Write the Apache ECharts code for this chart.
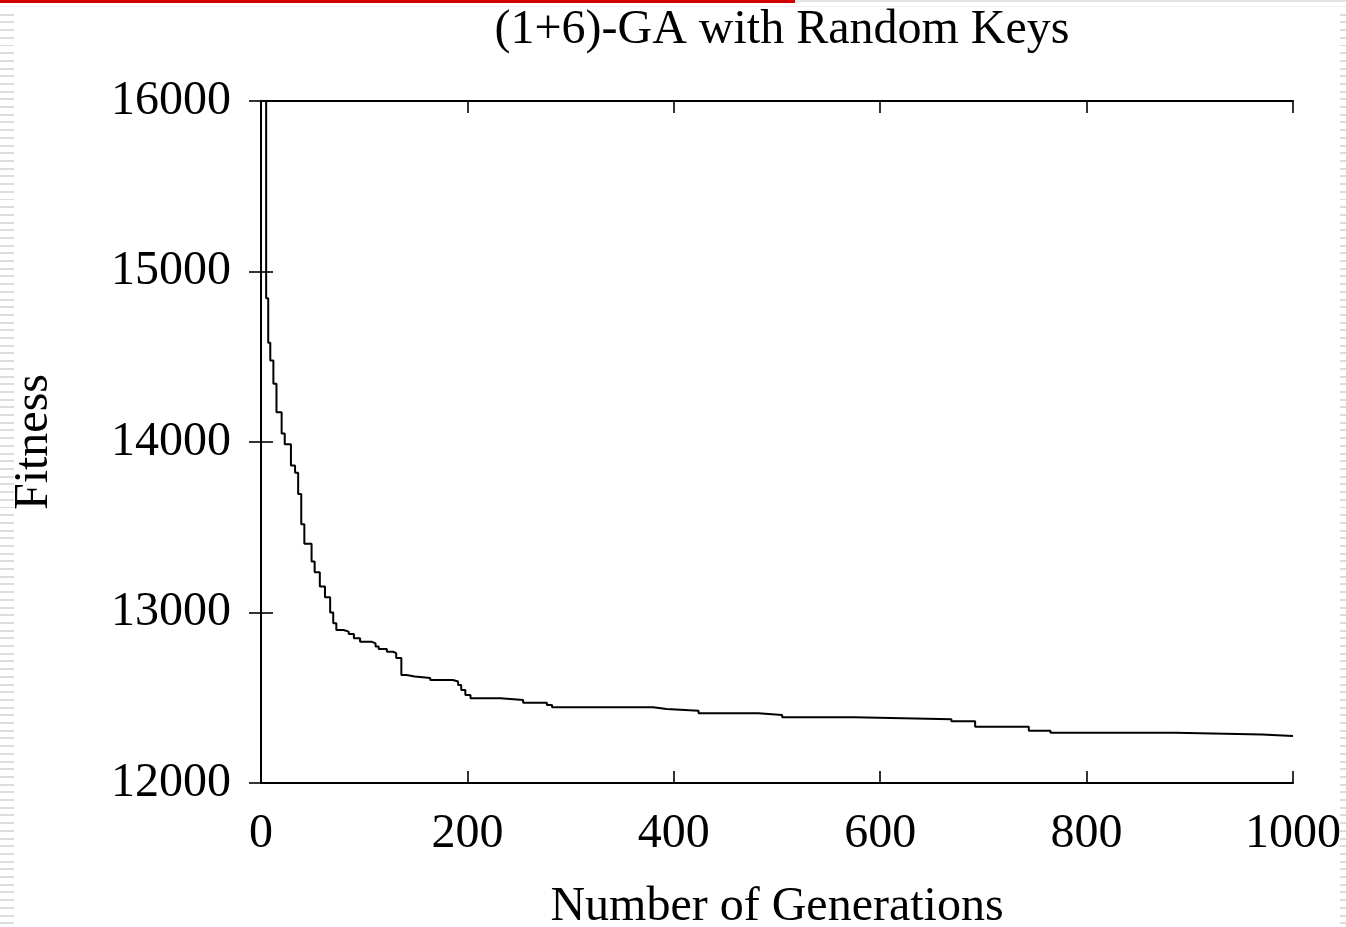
<!DOCTYPE html>
<html>
<head>
<meta charset="utf-8">
<script src="https://cdn.jsdelivr.net/npm/echarts@6/dist/echarts.min.js"></script>
<style>
  html, body { margin: 0; padding: 0; background: #fff; }
  #wrap { position: relative; width: 1346px; height: 927px; overflow: hidden; }
  #chart { position: absolute; left: 0; top: 0; width: 1346px; height: 927px; }
  .stripe { position: absolute; top: 8px; bottom: 0;
    background: repeating-linear-gradient(to bottom, #fff 0, #fff 5.7px, #dcdcdc 5.7px, #dcdcdc 7.7px); }
  #redbar { position: absolute; left: 0; top: 0; width: 795px; height: 3px; background: #d40000; }
  #graybar { position: absolute; left: 795px; right: 0; top: 0; height: 2px; background: #e4e4e4; }
  #hair { position: absolute; left: 0; right: 0; top: 6px; height: 1px; background: #efefef; }
</style>
</head>
<body>
<div id="wrap">
  <div class="stripe" style="left:0;width:14px;"></div>
  <div class="stripe" style="left:1340px;width:6px;"></div>
  <div id="redbar"></div>
  <div id="graybar"></div>
  <div id="hair"></div>
  <div id="chart"></div>
</div>
<script>
// best fitness so far (a drop happens at each generation)
var generations = [5, 5, 7, 9, 12, 15, 20, 23, 29, 33, 36, 39, 42, 49, 52, 57, 62, 67, 70, 73,
  80, 85, 90, 96, 107, 111, 114, 122, 128, 131, 136, 141, 149, 164, 186, 191, 194, 198, 203, 232,
  254, 277, 282, 380, 393, 424, 482, 505, 575, 669, 692, 744, 765, 886, 970, 1000];
var fitness = [16300, 14843, 14582, 14478, 14342, 14175, 14050, 13987, 13862, 13820, 13695, 13518, 13403, 13299, 13236, 13152, 13090, 13000, 12937, 12897,
  12888, 12874, 12849, 12829, 12819, 12800, 12786, 12770, 12762, 12733, 12633, 12624, 12616, 12604, 12595, 12575, 12546, 12516, 12497, 12487,
  12471, 12457, 12444, 12434, 12424, 12409, 12399, 12385, 12374, 12362, 12330, 12307, 12295, 12285, 12276, 12276];
var xTicks = { min: 0, max: 1000, interval: 200 };
var yTicks = { min: 12000, max: 16000, interval: 1000 };

var font = 'Liberation Serif';
var points = generations.map(function (g, i) { return [g, fitness[i]]; });

var chart = echarts.init(document.getElementById('chart'), null, { renderer: 'canvas' });

var lineStyle = { color: '#000', width: 2 };
var tick = { show: true, inside: true, length: 12, lineStyle: { color: '#000', width: 1.6 } };
var plain = function (v) { return String(v); };

chart.setOption({
  animation: false,
  backgroundColor: 'transparent',
  title: {
    text: '(1+6)-GA with Random Keys',
    left: 777,
    textAlign: 'center',
    top: 1,
    textStyle: { fontFamily: font, fontSize: 48, fontWeight: 'normal', color: '#000' }
  },
  grid: { left: 261, right: 53, top: 101, bottom: 144, outerBoundsMode: 'none' },
  xAxis: [{
    type: 'value',
    position: 'bottom',
    min: xTicks.min, max: xTicks.max, interval: xTicks.interval,
    name: 'Number of Generations',
    nameLocation: 'middle',
    nameGap: 100,
    nameTextStyle: { fontFamily: font, fontSize: 48, color: '#000' },
    axisLine: { show: true, lineStyle: lineStyle },
    axisTick: tick,
    axisLabel: { fontFamily: font, fontSize: 48, color: '#000', margin: 27, formatter: plain },
    splitLine: { show: false }
  }, {
    type: 'value',
    position: 'top',
    min: xTicks.min, max: xTicks.max, interval: xTicks.interval,
    axisLine: { show: true, lineStyle: lineStyle },
    axisTick: tick,
    axisLabel: { show: false },
    splitLine: { show: false }
  }],
  yAxis: [{
    type: 'value',
    position: 'left',
    min: yTicks.min, max: yTicks.max, interval: yTicks.interval,
    name: 'Fitness',
    nameLocation: 'middle',
    nameRotate: 90,
    nameGap: 203,
    nameTextStyle: { fontFamily: font, fontSize: 48, color: '#000' },
    axisLine: { show: true, lineStyle: lineStyle },
    axisTick: tick,
    axisLabel: { fontFamily: font, fontSize: 48, color: '#000', margin: 30, formatter: plain },
    splitLine: { show: false }
  }, {
    type: 'value',
    position: 'right',
    min: yTicks.min, max: yTicks.max, interval: yTicks.interval,
    axisLine: { show: true, lineStyle: lineStyle },
    axisTick: tick,
    axisLabel: { show: false },
    splitLine: { show: false }
  }],
  series: [{
    type: 'line',
    xAxisIndex: 0,
    yAxisIndex: 0,
    data: points,
    step: 'end',
    showSymbol: false,
    clip: true,
    lineStyle: { color: '#000', width: 2 }
  }]
});
</script>
</body>
</html>
